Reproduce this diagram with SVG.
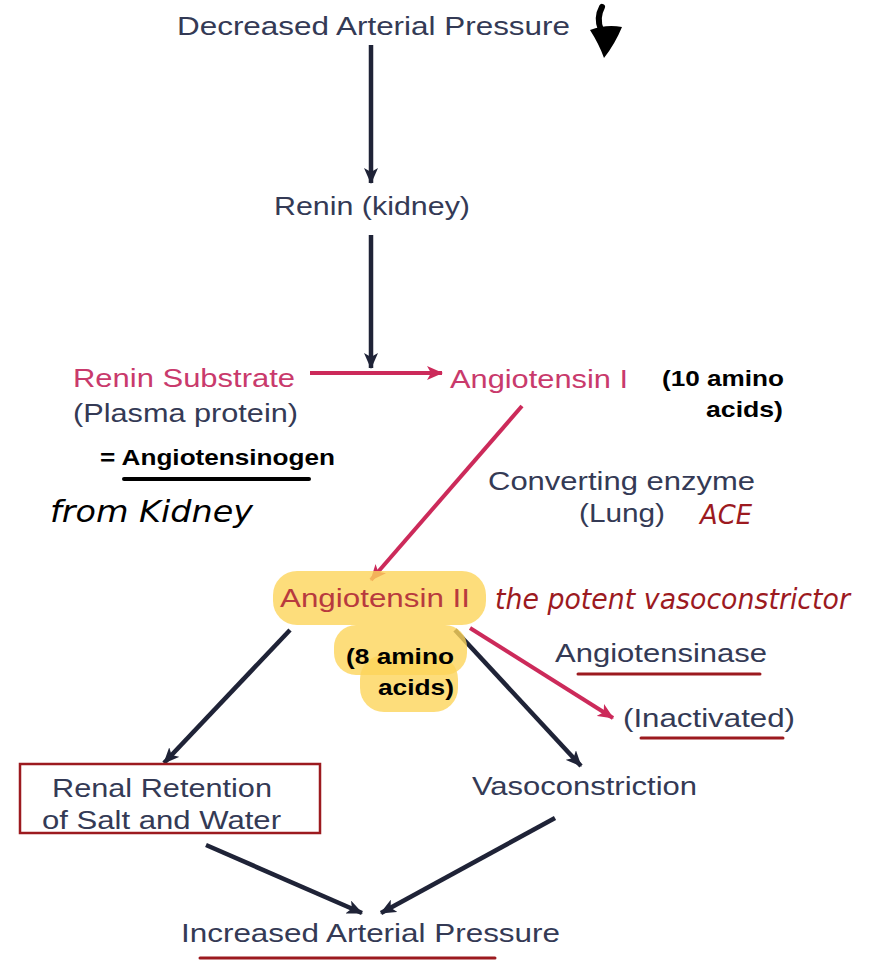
<svg xmlns="http://www.w3.org/2000/svg" width="885" height="960" viewBox="0 0 885 960">
<style>
.t{font-family:"Liberation Sans",Arial,sans-serif;font-size:25px;fill:#343a55}
.pk{fill:#c93a6c}
.b{font-weight:bold;fill:#000;font-size:22px}
.hw{font-family:"DejaVu Sans","Liberation Sans",sans-serif;font-style:italic;font-weight:normal}
.ln{stroke:#1f2337;stroke-width:4.5;fill:none}
.rl{stroke:#cc2a5a;stroke-width:4;fill:none}
.ul{stroke:#9c1a1f;stroke-width:3;stroke-linecap:round}
.hl{fill:#fcd45a;opacity:0.8}
</style>
<defs>
<marker id="ab" markerUnits="userSpaceOnUse" markerWidth="16" markerHeight="14" refX="15" refY="7" orient="auto"><path d="M0,0 L16,7 L0,14 L4,7 Z" fill="#1f2337"/></marker>
<marker id="ar" markerUnits="userSpaceOnUse" markerWidth="16" markerHeight="14" refX="15" refY="7" orient="auto"><path d="M0,0 L16,7 L0,14 L4,7 Z" fill="#cc2a5a"/></marker>
</defs>
<rect width="885" height="960" fill="#fff"/>

<g id="connectors">
<line class="ln" x1="371" y1="45" x2="371" y2="183" marker-end="url(#ab)"/>
<line class="ln" x1="371" y1="235" x2="371" y2="368" marker-end="url(#ab)"/>
<line class="rl" x1="310" y1="373" x2="442" y2="373" marker-end="url(#ar)"/>
<line class="rl" x1="522" y1="406" x2="371" y2="580" marker-end="url(#ar)"/>
<line class="ln" x1="290" y1="630" x2="164" y2="763" marker-end="url(#ab)"/>
<line class="ln" x1="455" y1="630" x2="581" y2="766" marker-end="url(#ab)"/>
<line class="rl" x1="470" y1="628" x2="613" y2="718" marker-end="url(#ar)"/>
<line class="ln" x1="206" y1="845" x2="362" y2="913" marker-end="url(#ab)"/>
<line class="ln" x1="555" y1="818" x2="381" y2="913" marker-end="url(#ab)"/>
</g>

<g id="hand-arrow">
<path d="M602,7 Q596,18 601,30" stroke="#000" stroke-width="6" fill="none" stroke-linecap="round"/>
<path d="M590,30 Q606,24 622,27 Q615,44 604,58 Q599,44 590,30 Z" fill="#000"/>
</g>

<g id="n-decreased"><text class="t" x="177" y="35" textLength="393" lengthAdjust="spacingAndGlyphs">Decreased Arterial Pressure</text></g>
<g id="n-renin"><text class="t" x="274" y="215" textLength="196" lengthAdjust="spacingAndGlyphs">Renin (kidney)</text></g>

<g id="n-substrate">
<text class="t pk" x="73" y="387" textLength="222" lengthAdjust="spacingAndGlyphs">Renin Substrate</text>
<text class="t" x="73" y="422" textLength="225" lengthAdjust="spacingAndGlyphs">(Plasma protein)</text>
<text class="t b" x="100" y="465" textLength="235" lengthAdjust="spacingAndGlyphs">= Angiotensinogen</text>
<line x1="124" y1="479" x2="309" y2="479" stroke="#000" stroke-width="4" stroke-linecap="round"/>
<text class="t hw" x="50" y="522" style="fill:#000;font-size:30px" textLength="203" lengthAdjust="spacingAndGlyphs">from Kidney</text>
</g>

<g id="n-ang1">
<text class="t pk" x="450" y="388" textLength="178" lengthAdjust="spacingAndGlyphs">Angiotensin I</text>
<text class="t b" x="662" y="386" textLength="122" lengthAdjust="spacingAndGlyphs">(10 amino</text>
<text class="t b" x="706" y="417" textLength="77" lengthAdjust="spacingAndGlyphs">acids)</text>
</g>

<g id="n-enzyme">
<text class="t" x="488" y="490" textLength="267" lengthAdjust="spacingAndGlyphs">Converting enzyme</text>
<text class="t" x="579" y="522" textLength="86" lengthAdjust="spacingAndGlyphs">(Lung)</text>
<text class="t hw" x="700" y="524" style="fill:#9c1a1f;font-size:26px" textLength="52" lengthAdjust="spacingAndGlyphs">ACE</text>
</g>

<g id="n-ang2">
<rect class="hl" x="273" y="571" width="213" height="54" rx="24"/>
<rect class="hl" x="334" y="625" width="133" height="50" rx="22"/>
<rect class="hl" x="360" y="655" width="98" height="57" rx="24"/>
<text class="t" x="280" y="607" style="fill:#b83a3e" textLength="190" lengthAdjust="spacingAndGlyphs">Angiotensin II</text>
<text class="t hw" x="495" y="609" style="fill:#9c1a1f;font-size:28px" textLength="355" lengthAdjust="spacingAndGlyphs">the potent vasoconstrictor</text>
<text class="t b" x="346" y="664" textLength="108" lengthAdjust="spacingAndGlyphs">(8 amino</text>
<text class="t b" x="378" y="695" textLength="76" lengthAdjust="spacingAndGlyphs">acids)</text>
</g>

<g id="n-inactivated">
<text class="t" x="555" y="662" textLength="212" lengthAdjust="spacingAndGlyphs">Angiotensinase</text>
<line class="ul" x1="578" y1="674" x2="760" y2="674"/>
<text class="t" x="623" y="727" textLength="172" lengthAdjust="spacingAndGlyphs">(Inactivated)</text>
<line class="ul" x1="641" y1="738" x2="783" y2="738"/>
</g>

<g id="n-renal">
<rect x="20" y="764" width="300" height="69" fill="none" stroke="#9c1a1f" stroke-width="2.5"/>
<text class="t" x="52" y="797" textLength="220" lengthAdjust="spacingAndGlyphs">Renal Retention</text>
<text class="t" x="42" y="829" textLength="239" lengthAdjust="spacingAndGlyphs">of Salt and Water</text>
</g>

<g id="n-vaso"><text class="t" x="472" y="795" textLength="225" lengthAdjust="spacingAndGlyphs">Vasoconstriction</text></g>

<g id="n-increased">
<text class="t" x="181" y="942" textLength="379" lengthAdjust="spacingAndGlyphs">Increased Arterial Pressure</text>
<line class="ul" x1="200" y1="958" x2="495" y2="958"/>
</g>
</svg>
